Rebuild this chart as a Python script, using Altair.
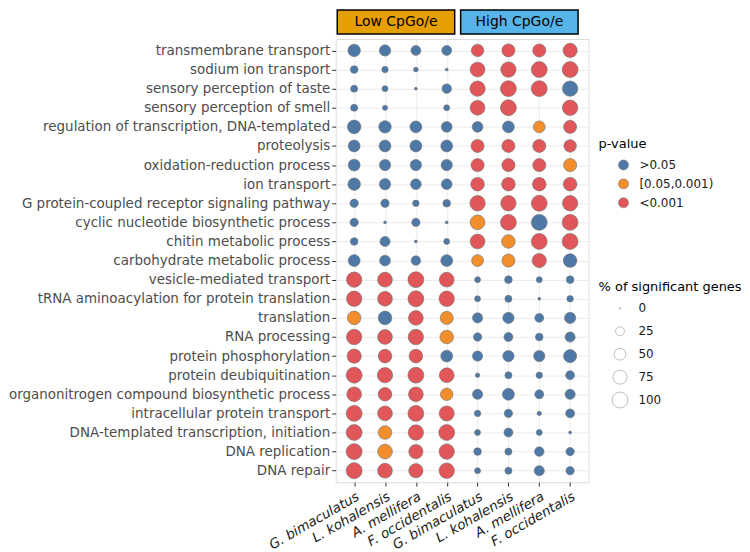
import altair as alt
import pandas as pd

terms = [
    "transmembrane transport",
    "sodium ion transport",
    "sensory perception of taste",
    "sensory perception of smell",
    "regulation of transcription, DNA-templated",
    "proteolysis",
    "oxidation-reduction process",
    "ion transport",
    "G protein-coupled receptor signaling pathway",
    "cyclic nucleotide biosynthetic process",
    "chitin metabolic process",
    "carbohydrate metabolic process",
    "vesicle-mediated transport",
    "tRNA aminoacylation for protein translation",
    "translation",
    "RNA processing",
    "protein phosphorylation",
    "protein deubiquitination",
    "organonitrogen compound biosynthetic process",
    "intracellular protein transport",
    "DNA-templated transcription, initiation",
    "DNA replication",
    "DNA repair",
]

species = ["G. bimaculatus", "L. kohalensis", "A. mellifera", "F. occidentalis"]
groups = ["Low CpGo/e", "High CpGo/e"]
group_fill = ["#E69F00", "#56B4E9"]

# % of significant genes; columns: Low x4 species, High x4 species (None = missing)
pct = [
    [56, 44, 32, 32, 56, 63, 63, 77],
    [17, 11, 5, 1, 84, 92, 100, 100],
    [14, 9, 1, 29, 92, 100, 100, 92],
    [14, 6, None, 9, 84, 100, None, 92],
    [69, 56, 50, 39, 39, 50, 50, 63],
    [50, 50, 50, 50, 63, 63, 63, 56],
    [50, 44, 44, 44, 63, 63, 63, 63],
    [56, 44, 39, 39, 69, 69, 69, 69],
    [21, 21, 11, 17, 92, 92, 100, 92],
    [21, 1, 21, 1, 84, 100, 100, 100],
    [17, 34, 1, 9, 84, 69, 100, 100],
    [50, 39, 29, 50, 50, 63, 77, 69],
    [92, 84, 100, 84, 9, 17, 9, 17],
    [92, 84, 100, 92, 9, 14, 1, 11],
    [69, 69, 84, 63, 34, 44, 25, 44],
    [92, 84, 92, 69, 21, 25, 17, 34],
    [77, 69, 69, 50, 34, 44, 44, 63],
    [100, 92, 100, 84, 4, 14, 11, 25],
    [84, 69, 84, 56, 34, 50, 25, 34],
    [100, 84, 100, 88, 11, 21, 4, 25],
    [100, 69, 92, 100, 9, 25, 9, 1],
    [100, 84, 77, 92, 17, 14, 29, 21],
    [100, 84, 77, 92, 9, 14, 34, 21],
]

# p-value class: b = >0.05, o = [0.05,0.001), r = <0.001, - = missing
pcls = [
    "bbbbrrrr",
    "bbbbrrrr",
    "bbbbrrrb",
    "bb-brr-r",
    "bbbbbbor",
    "bbbbrrrr",
    "bbbbrrro",
    "bbbbrrrr",
    "bbbbrrrr",
    "bbbborbr",
    "bbbbrorr",
    "bbbboorb",
    "rrrrbbbb",
    "rrrrbbbb",
    "obrobbbb",
    "rrrobbbb",
    "rrrbbbbb",
    "rrrrbbbb",
    "rrrobbbb",
    "rrrrbbbb",
    "rorrbbbb",
    "rorrbbbb",
    "rrrrbbbb",
]

pv_labels = [">0.05", "[0.05,0.001)", "<0.001"]
pv_colors = ["#4E79A7", "#F28E2B", "#E15759"]
code_map = {"b": pv_labels[0], "o": pv_labels[1], "r": pv_labels[2]}

cols = [f"{g}|{s}" for g in groups for s in species]

rows = []
for i, t in enumerate(terms):
    for j, c in enumerate(cols):
        v = pct[i][j]
        if v is None or pcls[i][j] == "-":
            continue
        rows.append({"term": t, "col": c, "pct": v, "pval": code_map[pcls[i][j]]})
df = pd.DataFrame(rows)

hdr = pd.DataFrame({
    "col": [f"{g}|{species[0]}" for g in groups],
    "col_end": [f"{g}|{species[-1]}" for g in groups],
    "col_mid": [f"{g}|{species[1]}" for g in groups],
    "group": groups,
    "fill": group_fill,
})

W, H = 254, 445
xscale = alt.Scale(type="point", domain=cols, padding=0.6)
yscale = alt.Scale(type="point", domain=terms, padding=0.6)

xaxis = alt.Axis(
    title=None, labelExpr="split(datum.label, '|')[1]", labelAngle=330,
    labelAlign="right", labelBaseline="top", labelFontStyle="italic",
    labelFontSize=13.5, labelColor="#1a1a1a", labelPadding=3, labelLimit=0,
    grid=True, gridColor="#EBEBEB", gridWidth=1, domain=False,
    ticks=True, tickColor="#333333", tickSize=4, zindex=0,
)
yaxis = alt.Axis(
    title=None, labelFontSize=13.5, labelColor="#4D4D4D", labelPadding=2,
    labelLimit=0,
    grid=True, gridColor="#EBEBEB", gridWidth=1, domain=False,
    ticks=True, tickColor="#333333", tickSize=4, zindex=0,
)

points = alt.Chart(df).mark_circle(
    opacity=1, stroke="#6f6f6f", strokeWidth=0.6
).encode(
    x=alt.X("col:N", scale=xscale, axis=xaxis, sort=cols),
    y=alt.Y("term:N", scale=yscale, axis=yaxis, sort=terms),
    color=alt.Color(
        "pval:N",
        scale=alt.Scale(domain=pv_labels, range=pv_colors),
        legend=alt.Legend(
            title="p-value", orient="none", legendX=264, legendY=99,
            titleFontSize=13, titleFontWeight="normal", titleColor="#000000",
            labelFontSize=12, labelColor="#1a1a1a", symbolType="circle",
            symbolSize=100, symbolStrokeColor="#6f6f6f", symbolStrokeWidth=0.6,
            clipHeight=17, rowPadding=2, titlePadding=6,
            symbolOffset=19, labelOffset=10,
        ),
    ),
    size=alt.Size(
        "pct:Q",
        scale=alt.Scale(type="pow", exponent=0.85, domain=[0, 100], range=[3, 254]),
        legend=alt.Legend(
            title="% of significant genes", orient="none", legendX=264, legendY=243,
            titleFontSize=13, titleFontWeight="normal", titleColor="#000000",
            labelFontSize=12, labelColor="#1a1a1a", symbolType="circle",
            values=[0, 25, 50, 75, 100], symbolFillColor="white",
            symbolStrokeColor="#BDBDBD", symbolStrokeWidth=1,
            clipHeight=21, rowPadding=2, titlePadding=4,
            symbolOffset=13, labelOffset=10,
        ),
    ),
)

boxes = alt.Chart(hdr).mark_rect(
    xOffset=-17, x2Offset=8, stroke="#000000", strokeWidth=1.5
).encode(
    x=alt.X("col:N", scale=xscale, axis=xaxis, sort=cols),
    x2="col_end:N",
    y=alt.value(-29),
    y2=alt.value(-5),
    fill=alt.Fill("fill:N", scale=None),
)

labels = alt.Chart(hdr).mark_text(
    dx=11, fontSize=14, color="#000000", baseline="middle", align="center"
).encode(
    x=alt.X("col_mid:N", scale=xscale, axis=xaxis, sort=cols),
    y=alt.value(-17),
    text="group:N",
)

chart = alt.layer(boxes, labels, points).properties(
    width=W, height=H, padding={"left": 0, "top": 0, "right": 0, "bottom": 0}
).configure_view(
    stroke="#333333", strokeWidth=1
).configure(font="DejaVu Sans")

chart.save("out.html", embed_options={"renderer": "svg", "actions": False})
